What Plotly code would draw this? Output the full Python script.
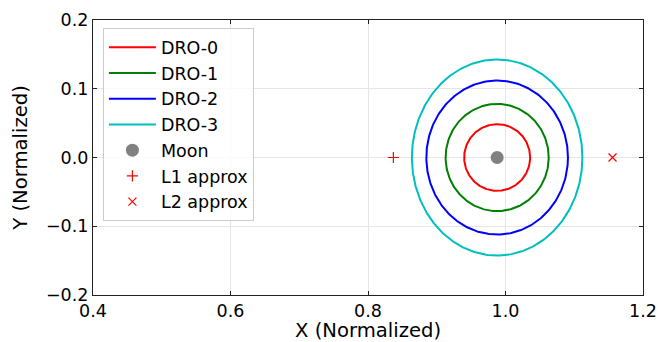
import numpy as np
import plotly.graph_objects as go

# ---- data ----
orbit_names = ["DRO-0", "DRO-1", "DRO-2", "DRO-3"]
orbit_colors = ["#ff0000", "#008000", "#0000ff", "#00bfbf"]
orbit_semi_x = [0.048, 0.075, 0.103, 0.124]
orbit_semi_y = [0.0485, 0.078, 0.112, 0.1426]
moon_x = [0.98785]
moon_y = [0.0]
l1_x = [0.8369]
l1_y = [0.0]
l2_x = [1.1557]
l2_y = [0.0]
x_ticks = [0.4, 0.6, 0.8, 1.0, 1.2]
y_ticks = [-0.2, -0.1, 0.0, 0.1, 0.2]
x_title = "X (Normalized)"
y_title = "Y (Normalized)"

theta = np.linspace(0, 2 * np.pi, 400)

FONT = "DejaVu Sans"
FS = 17.5
TFS = 19.6

fig = go.Figure()
for i, (name, col, ax, ay) in enumerate(zip(orbit_names, orbit_colors, orbit_semi_x, orbit_semi_y)):
    fig.add_trace(go.Scatter(
        x=moon_x[0] + ax * np.cos(theta), y=moon_y[0] + ay * np.sin(theta),
        mode="lines", name=name, line=dict(color=col, width=2),
        legendgroup=f"g{i}",
    ))

fig.add_trace(go.Scatter(x=moon_x, y=moon_y, mode="markers", name="Moon",
                         marker=dict(color="#808080", size=13), legendgroup="g4"))
fig.add_trace(go.Scatter(x=l1_x, y=l1_y, mode="markers", name="L1 approx",
                         marker=dict(symbol="cross-thin", color="red", size=8,
                                     line=dict(color="red", width=1.2)), legendgroup="g5"))
fig.add_trace(go.Scatter(x=l2_x, y=l2_y, mode="markers", name="L2 approx",
                         marker=dict(symbol="x-thin", color="red", size=8,
                                     line=dict(color="red", width=1.2)), legendgroup="g6"))

axis_common = dict(
    showline=True, linecolor="#222", linewidth=1.2, mirror="allticks",
    ticks="inside", ticklen=4, tickcolor="#222", tickwidth=1,
    showgrid=True, gridcolor="#e6e6e6", gridwidth=1, zeroline=False,
    tickfont=dict(family=FONT, size=FS, color="black"),
    automargin=False,
)

fig.update_layout(
    width=658, height=342,
    margin=dict(l=93, r=15, t=20, b=47),
    paper_bgcolor="white", plot_bgcolor="white",
    font=dict(family=FONT, size=FS, color="black"),
    showlegend=True,
    legend=dict(
        x=0.018, y=0.97, xanchor="left", yanchor="top",
        bgcolor="rgba(255,255,255,0.8)", bordercolor="#cccccc", borderwidth=1,
        font=dict(family=FONT, size=FS, color="black"),
        tracegroupgap=0, itemwidth=47,
    ),
    xaxis=dict(range=[0.4, 1.2], tickvals=x_ticks, tickformat=".1f",
               **axis_common),
    yaxis=dict(range=[-0.2, 0.2], tickvals=y_ticks, tickformat=".1f",
               title=dict(text=y_title, font=dict(family=FONT, size=TFS), standoff=13),
               **axis_common),
    annotations=[dict(
        text=x_title, xref="paper", yref="paper", x=0.5, y=-0.1277,
        xanchor="center", yanchor="middle", showarrow=False,
        font=dict(family=FONT, size=TFS, color="black"),
    )],
)

fig.write_html("out.html")
